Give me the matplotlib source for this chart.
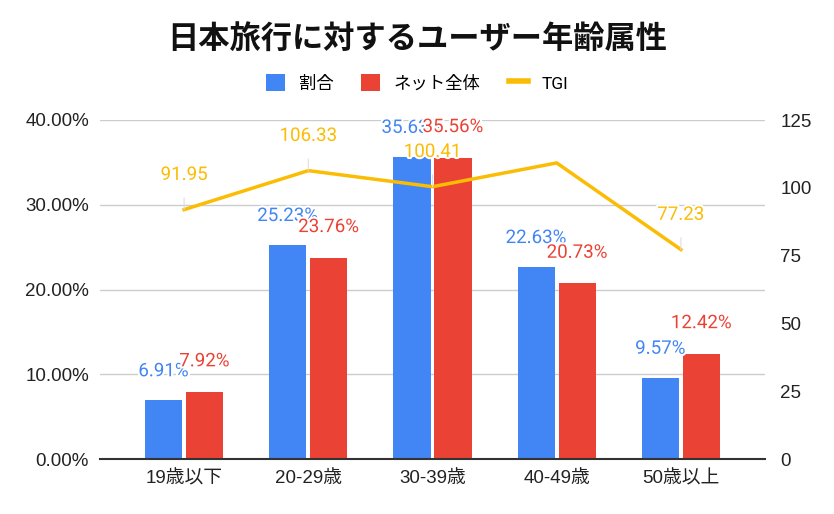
import matplotlib.pyplot as plt
import matplotlib.patheffects as pe
import numpy as np

plt.rcParams['font.family'] = ['Roboto', 'Noto Sans CJK JP', 'DejaVu Sans']
tick_font = ['Liberation Sans', 'Noto Sans CJK JP', 'DejaVu Sans']

categories = ["19歳以下", "20-29歳", "30-39歳", "40-49歳", "50歳以上"]
share = [6.91, 25.23, 35.63, 22.63, 9.57]
net_total = [7.92, 23.76, 35.56, 20.73, 12.42]
tgi = [91.95, 106.33, 100.41, 109.17, 77.23]
tgi_labels = ["91.95", "106.33", "100.41", None, "77.23"]

colors = {"share": "#4285F4", "net": "#EA4335", "tgi": "#FBBC04"}
halo = [pe.withStroke(linewidth=3, foreground="white")]

fig = plt.figure(figsize=(8.34, 5.14), dpi=100)
ax = fig.add_axes([100 / 834, 1 - 459 / 514, 665 / 834, 339 / 514])
ax2 = ax.twinx()

x = np.arange(len(categories))
w = 0.3
ax.bar(x - 0.165, share, w, color=colors["share"], label="割合", zorder=2)
ax.bar(x + 0.165, net_total, w, color=colors["net"], label="ネット全体", zorder=2)

# TGI line drawn on the bar axes so it sits above the bars
ax.plot(x, np.array(tgi) * 40 / 125, color=colors["tgi"], linewidth=2.5, zorder=3)

for xi, v in zip(x, share):
    ax.annotate(f"{v:.2f}%", (xi - 0.165, v), textcoords="offset points", xytext=(0, 21),
                ha="center", va="center", fontsize=13.5, color=colors["share"],
                path_effects=halo, zorder=5)
for xi, v in zip(x, net_total):
    ax.annotate(f"{v:.2f}%", (xi + 0.165, v), textcoords="offset points", xytext=(0, 22),
                ha="center", va="center", fontsize=13.5, color=colors["net"],
                path_effects=halo, zorder=6)

for xi, v, lab in zip(x, tgi, tgi_labels):
    if lab is None:
        continue
    ax.annotate(lab, (xi, v * 40 / 125), textcoords="offset points", xytext=(0, 25),
                ha="center", va="center", fontsize=13.5, color=colors["tgi"],
                path_effects=halo, zorder=7,
                arrowprops=dict(arrowstyle="-", color="#dddddd", lw=0.8,
                                shrinkA=8, shrinkB=0))

ax.set_xlim(-0.677, 4.677)
ax.set_ylim(0, 40)
ax.set_yticks([0, 10, 20, 30, 40])
ax.set_yticklabels([f"{t:.2f}%" for t in [0, 10, 20, 30, 40]], family=tick_font)
ax.set_xticks(x)
ax.set_xticklabels(categories, family=tick_font)
ax.grid(axis="y", color="#cccccc", linewidth=1, zorder=0)
for s in ["top", "right", "left"]:
    ax.spines[s].set_visible(False)
ax.spines["bottom"].set_color("#333333")
ax.spines["bottom"].set_linewidth(1.5)
ax.tick_params(axis="both", length=0, labelsize=13.5, colors="#222222")
ax.tick_params(axis="y", pad=8)
ax.tick_params(axis="x", pad=8)

ax2.set_ylim(0, 125)
ax2.set_yticks([0, 25, 50, 75, 100, 125])
ax2.set_yticklabels(["0", "25", "50", "75", "100", "125"], family=tick_font)
for s in ax2.spines.values():
    s.set_visible(False)
ax2.tick_params(axis="y", length=0, labelsize=13.5, colors="#222222", pad=11)

ax.set_zorder(ax2.get_zorder() + 1)
ax.patch.set_visible(False)

fig.text(0.5, 1 - 39 / 514, "日本旅行に対するユーザー年齢属性", ha="center", va="center",
         fontsize=22.5, fontweight="bold", color="#111111")

h1, l1 = ax.get_legend_handles_labels()
h2 = [plt.Line2D([], [], color=colors["tgi"], linewidth=4)]
fig.legend(h1 + h2, l1 + ["TGI"], loc="center", bbox_to_anchor=(0.5, 1 - 83 / 514),
           ncol=3, frameon=False, fontsize=12.5, handlelength=1.1, handleheight=1.1,
           columnspacing=1.6, handletextpad=0.8)

fig.savefig("out.png", dpi=100)
